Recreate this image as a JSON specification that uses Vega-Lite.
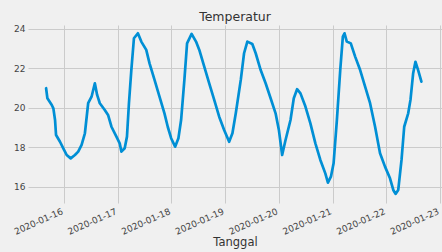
{
  "$schema": "https://vega.github.io/schema/vega-lite/v6.json",
  "autosize": "none",
  "width": 414,
  "height": 178,
  "padding": {"left": 28, "top": 25, "right": 0, "bottom": 49},
  "background": "#f0f0f0",
  "config": {
    "view": {"stroke": null, "fill": "#f0f0f0"},
    "font": "DejaVu Sans",
    "axis": {"labelFont": "DejaVu Sans", "titleFont": "DejaVu Sans", "gridColor": "#cbcbcb", "gridWidth": 1, "domain": false, "ticks": false, "labelColor": "#444", "titleColor": "#333", "titleFontWeight": "normal"}
  },
  "title": {"text": "Temperatur", "fontSize": 12.5, "fontWeight": "normal", "color": "#333", "offset": 1.5, "anchor": "middle", "font": "DejaVu Sans"},
  "data": {"values": [
    {"t": "2020-01-15T16:00", "v": 21.0},
    {"t": "2020-01-15T16:35", "v": 20.49},
    {"t": "2020-01-15T18:32", "v": 20.15},
    {"t": "2020-01-15T19:15", "v": 19.98},
    {"t": "2020-01-15T20:00", "v": 19.39},
    {"t": "2020-01-15T20:27", "v": 18.63},
    {"t": "2020-01-15T22:13", "v": 18.29},
    {"t": "2020-01-15T23:41", "v": 17.96},
    {"t": "2020-01-16T01:12", "v": 17.62},
    {"t": "2020-01-16T02:59", "v": 17.45},
    {"t": "2020-01-16T04:53", "v": 17.62},
    {"t": "2020-01-16T06:21", "v": 17.79},
    {"t": "2020-01-16T07:52", "v": 18.13},
    {"t": "2020-01-16T09:20", "v": 18.72},
    {"t": "2020-01-16T10:48", "v": 20.24},
    {"t": "2020-01-16T12:19", "v": 20.57},
    {"t": "2020-01-16T13:47", "v": 21.25},
    {"t": "2020-01-16T14:48", "v": 20.66},
    {"t": "2020-01-16T16:00", "v": 20.24},
    {"t": "2020-01-16T18:13", "v": 19.9},
    {"t": "2020-01-16T19:41", "v": 19.65},
    {"t": "2020-01-16T21:12", "v": 19.05},
    {"t": "2020-01-16T23:25", "v": 18.55},
    {"t": "2020-01-17T00:53", "v": 18.21},
    {"t": "2020-01-17T01:39", "v": 17.79},
    {"t": "2020-01-17T03:07", "v": 17.96},
    {"t": "2020-01-17T04:08", "v": 18.55},
    {"t": "2020-01-17T05:01", "v": 20.24},
    {"t": "2020-01-17T06:05", "v": 21.92},
    {"t": "2020-01-17T07:15", "v": 23.53},
    {"t": "2020-01-17T09:01", "v": 23.78},
    {"t": "2020-01-17T10:32", "v": 23.36},
    {"t": "2020-01-17T12:45", "v": 22.94},
    {"t": "2020-01-17T14:13", "v": 22.26},
    {"t": "2020-01-17T16:27", "v": 21.42},
    {"t": "2020-01-17T18:40", "v": 20.57},
    {"t": "2020-01-17T20:53", "v": 19.73},
    {"t": "2020-01-17T22:21", "v": 19.05},
    {"t": "2020-01-17T23:52", "v": 18.47},
    {"t": "2020-01-18T01:39", "v": 18.04},
    {"t": "2020-01-18T03:07", "v": 18.47},
    {"t": "2020-01-18T04:19", "v": 19.39},
    {"t": "2020-01-18T05:47", "v": 21.42},
    {"t": "2020-01-18T06:59", "v": 23.27},
    {"t": "2020-01-18T09:01", "v": 23.75},
    {"t": "2020-01-18T10:59", "v": 23.36},
    {"t": "2020-01-18T12:27", "v": 22.94},
    {"t": "2020-01-18T14:40", "v": 22.09},
    {"t": "2020-01-18T16:53", "v": 21.25},
    {"t": "2020-01-18T19:07", "v": 20.41},
    {"t": "2020-01-18T21:20", "v": 19.56},
    {"t": "2020-01-18T23:33", "v": 18.89},
    {"t": "2020-01-19T01:47", "v": 18.29},
    {"t": "2020-01-19T03:15", "v": 18.72},
    {"t": "2020-01-19T04:45", "v": 19.73},
    {"t": "2020-01-19T06:59", "v": 21.42},
    {"t": "2020-01-19T08:27", "v": 22.77},
    {"t": "2020-01-19T09:55", "v": 23.36},
    {"t": "2020-01-19T12:08", "v": 23.24},
    {"t": "2020-01-19T13:39", "v": 22.77},
    {"t": "2020-01-19T15:52", "v": 21.92},
    {"t": "2020-01-19T18:05", "v": 21.25},
    {"t": "2020-01-19T20:19", "v": 20.49},
    {"t": "2020-01-19T22:32", "v": 19.73},
    {"t": "2020-01-20T00:00", "v": 18.89},
    {"t": "2020-01-20T01:28", "v": 17.62},
    {"t": "2020-01-20T02:59", "v": 18.38},
    {"t": "2020-01-20T05:12", "v": 19.39},
    {"t": "2020-01-20T06:40", "v": 20.49},
    {"t": "2020-01-20T08:08", "v": 20.95},
    {"t": "2020-01-20T09:39", "v": 20.74},
    {"t": "2020-01-20T11:52", "v": 20.07},
    {"t": "2020-01-20T14:05", "v": 19.22},
    {"t": "2020-01-20T16:19", "v": 18.21},
    {"t": "2020-01-20T18:32", "v": 17.37},
    {"t": "2020-01-20T20:45", "v": 16.69},
    {"t": "2020-01-20T21:55", "v": 16.22},
    {"t": "2020-01-20T23:15", "v": 16.52},
    {"t": "2020-01-21T00:27", "v": 17.2},
    {"t": "2020-01-21T01:55", "v": 19.39},
    {"t": "2020-01-21T03:25", "v": 21.92},
    {"t": "2020-01-21T04:35", "v": 23.61},
    {"t": "2020-01-21T05:20", "v": 23.78},
    {"t": "2020-01-21T06:21", "v": 23.36},
    {"t": "2020-01-21T08:08", "v": 23.27},
    {"t": "2020-01-21T10:05", "v": 22.6},
    {"t": "2020-01-21T12:19", "v": 21.92},
    {"t": "2020-01-21T14:32", "v": 21.08},
    {"t": "2020-01-21T16:45", "v": 20.24},
    {"t": "2020-01-21T18:59", "v": 19.05},
    {"t": "2020-01-21T21:12", "v": 17.71},
    {"t": "2020-01-21T23:25", "v": 17.03},
    {"t": "2020-01-22T01:39", "v": 16.44},
    {"t": "2020-01-22T03:07", "v": 15.85},
    {"t": "2020-01-22T04:08", "v": 15.65},
    {"t": "2020-01-22T05:20", "v": 15.85},
    {"t": "2020-01-22T06:48", "v": 17.37},
    {"t": "2020-01-22T08:00", "v": 19.05},
    {"t": "2020-01-22T09:47", "v": 19.73},
    {"t": "2020-01-22T10:48", "v": 20.41},
    {"t": "2020-01-22T12:00", "v": 21.76},
    {"t": "2020-01-22T13:01", "v": 22.34},
    {"t": "2020-01-22T14:13", "v": 21.92},
    {"t": "2020-01-22T15:41", "v": 21.33}
  ]},
  "mark": {"type": "line", "color": "#008fd5", "strokeWidth": 2.7, "strokeJoin": "round", "strokeCap": "round"},
  "encoding": {
    "x": {
      "field": "t", "type": "temporal", "title": "Tanggal",
      "scale": {"domain": [{"year": 2020, "month": 1, "date": 15, "hours": 7, "minutes": 55}, {"year": 2020, "month": 1, "date": 23, "hours": 0, "minutes": 53}], "nice": false},
      "axis": {"format": "%Y-%m-%d", "tickCount": {"interval": "day", "step": 1}, "labelAngle": -24, "labelAlign": "right", "labelBaseline": "bottom", "labelFontSize": 9, "labelPadding": 12, "labelOverlap": false, "labelFlush": false, "labelBound": false, "titleFontSize": 11.5, "titlePadding": 0}
    },
    "y": {
      "field": "v", "type": "quantitative", "title": null,
      "scale": {"domain": [15.19, 24.2], "nice": false, "zero": false},
      "axis": {"values": [16, 18, 20, 22, 24], "labelFontSize": 9, "labelPadding": 3}
    }
  }
}
